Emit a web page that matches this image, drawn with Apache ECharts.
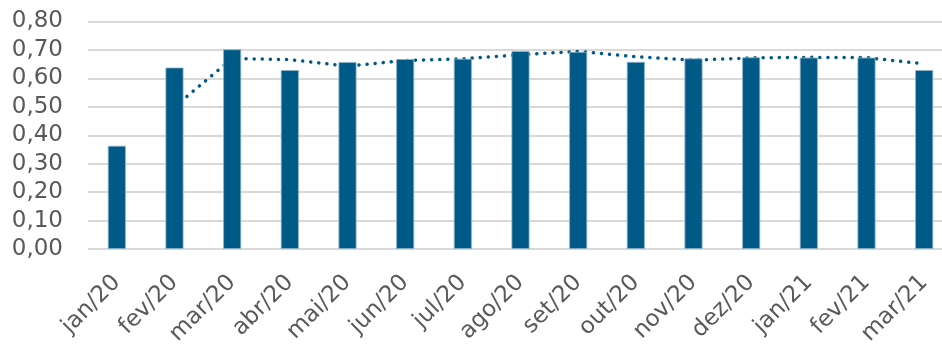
<!DOCTYPE html>
<html>
<head>
<meta charset="utf-8">
<script src="https://cdn.jsdelivr.net/npm/echarts@6/dist/echarts.min.js"></script>
<style>
  html, body { margin: 0; padding: 0; background: #fff; }
  #chart { width: 942px; height: 346px; }
</style>
</head>
<body>
<div id="chart"></div>
<script>
  var months = ['jan/20', 'fev/20', 'mar/20', 'abr/20', 'mai/20', 'jun/20', 'jul/20', 'ago/20',
    'set/20', 'out/20', 'nov/20', 'dez/20', 'jan/21', 'fev/21', 'mar/21']
  var barValues = [0.363, 0.638, 0.702, 0.629, 0.657, 0.668, 0.669, 0.696,
    0.693, 0.658, 0.670, 0.674, 0.673, 0.673, 0.629]
  // media movel (2 periodos)
  var avgValues = ['-', 0.500, 0.670, 0.666, 0.643, 0.663, 0.669, 0.683,
    0.695, 0.676, 0.664, 0.672, 0.674, 0.673, 0.651]
  var yTicks = { min: 0, max: 0.8, interval: 0.1 }

  var textColor = '#595959'
  var blue = '#005a87'
  var myChart = echarts.init(document.getElementById('chart'))
  var option = {
    animation: false,
    textStyle: { fontFamily: 'DejaVu Sans' },
    grid: {
      left: 88,
      width: 865,
      top: 21.5,
      bottom: 97,
      containLabel: false,
      outerBoundsMode: 'none'
    },
    xAxis: {
      type: 'category',
      data: months,
      axisLine: { show: false },
      axisTick: { show: false },
      axisLabel: {
        rotate: 45,
        interval: 0,
        margin: 30,
        color: textColor,
        fontSize: 23,
        fontFamily: 'DejaVu Sans'
      }
    },
    yAxis: {
      type: 'value',
      min: yTicks.min,
      max: yTicks.max,
      interval: yTicks.interval,
      axisLine: { show: false },
      axisTick: { show: false },
      splitLine: { lineStyle: { color: '#d9d9d9', width: 2 } },
      axisLabel: {
        margin: 25,
        color: textColor,
        fontSize: 23,
        fontFamily: 'DejaVu Sans',
        formatter: function (v) { return v.toFixed(2).replace('.', ',') }
      }
    },
    series: [
      {
        name: 'media',
        type: 'line',
        z: 1,
        data: avgValues,
        symbol: 'none',
        lineStyle: {
          color: blue,
          width: 3.5,
          type: [0.1, 8],
          cap: 'round'
        }
      },
      {
        name: 'valor',
        type: 'bar',
        z: 2,
        data: barValues,
        barWidth: 18,
        itemStyle: {
          color: blue,
          borderColor: '#8fb3c8',
          borderWidth: 0.8
        }
      }
    ]
  }
  myChart.setOption(option)
</script>
</body>
</html>
